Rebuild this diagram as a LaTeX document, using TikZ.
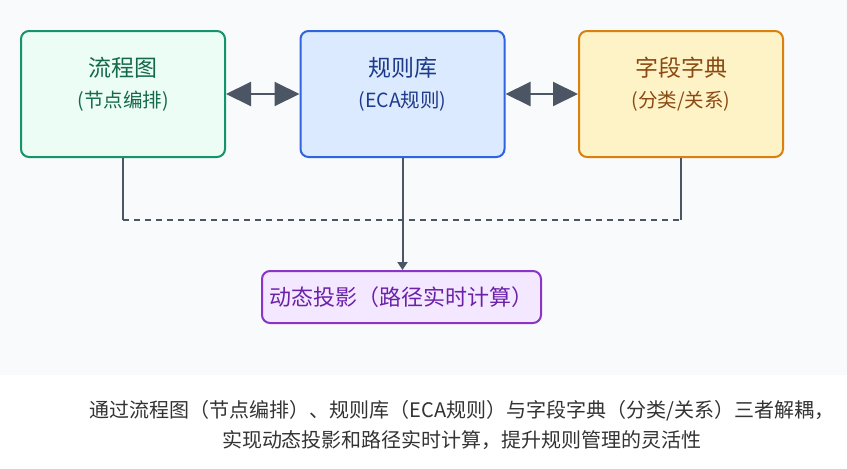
\documentclass[tikz,border=0pt]{standalone}
\usepackage{fontspec}
\setmainfont{Noto Sans CJK SC}
\usetikzlibrary{arrows.meta}
\definecolor{bgc}{HTML}{F8FAFC}
\definecolor{lc}{HTML}{4B5563}
\definecolor{gfill}{HTML}{ECFDF5}\definecolor{gdraw}{HTML}{15936A}\definecolor{gtext}{HTML}{14694A}
\definecolor{bfill}{HTML}{DBEAFE}\definecolor{bdraw}{HTML}{2F63E0}\definecolor{btext}{HTML}{1E3A8A}
\definecolor{ofill}{HTML}{FEF3C7}\definecolor{odraw}{HTML}{D9800F}\definecolor{otext}{HTML}{8B4A12}
\definecolor{pfill}{HTML}{F3E8FF}\definecolor{pdraw}{HTML}{8B34C8}\definecolor{ptext}{HTML}{6B21A8}
\definecolor{captc}{HTML}{333333}
\tikzset{
  box/.style={rounded corners=8pt, line width=2pt, minimum width=204pt, minimum height=126pt, inner sep=0pt},
  ttl/.style={font=\fontsize{23}{27}\selectfont},
  sub/.style={font=\fontsize{19.5}{23}\selectfont},
  link/.style={draw=lc, line width=2pt},
  big/.style={link, {Triangle[length=25pt,width=24pt]}-{Triangle[length=25pt,width=24pt]}},
}
\begin{document}
\begin{tikzpicture}[x=1pt,y=1pt]
\useasboundingbox (0,0) rectangle (847,-469);
\fill[white] (0,0) rectangle (847,-469);
\fill[bgc] (0,0) rectangle (847,-375);
\node[box, draw=gdraw, fill=gfill] (a) at (123,-94) {};
\node[box, draw=bdraw, fill=bfill] (b) at (402.5,-94) {};
\node[box, draw=odraw, fill=ofill] (c) at (681,-94) {};
\node[ttl, text=gtext] (at) at (123,-68) {流程图};
\node[sub, text=gtext] (as) at (123,-101) {(节点编排)};
\node[ttl, text=btext] (bt) at (402.5,-68) {规则库};
\node[sub, text=btext] (bs) at (402.5,-101) {(ECA规则)};
\node[ttl, text=otext] (ct) at (681,-68) {字段字典};
\node[sub, text=otext] (cs) at (681,-101) {(分类/关系)};
\node[rounded corners=8pt, line width=2pt, draw=pdraw, fill=pfill, minimum width=279pt, minimum height=52pt, inner sep=0pt, text=ptext, font=\fontsize{22}{26}\selectfont] (d) at (401.5,-297) {动态投影（路径实时计算）};
\draw[big] (a.east) -- (b.west);
\draw[big] (b.east) -- (c.west);
\coordinate (ja) at (123,-220);
\coordinate (jc) at (681,-220);
\draw[link] (a.south) -- (ja);
\draw[link] (c.south) -- (jc);
\draw[link, dashed, dash pattern=on 6pt off 5pt] (ja) -- (jc);
\draw[link, -{Triangle[length=8pt,width=10pt]}] (b.south) -- (d.north -| b.south);
\node[text=captc, font=\fontsize{20}{30}\selectfont, align=center] (cap) at (462,-425) {通过流程图（节点编排）、规则库（ECA规则）与字段字典（分类/关系）三者解耦，\\实现动态投影和路径实时计算，提升规则管理的灵活性};
\end{tikzpicture}
\end{document}
